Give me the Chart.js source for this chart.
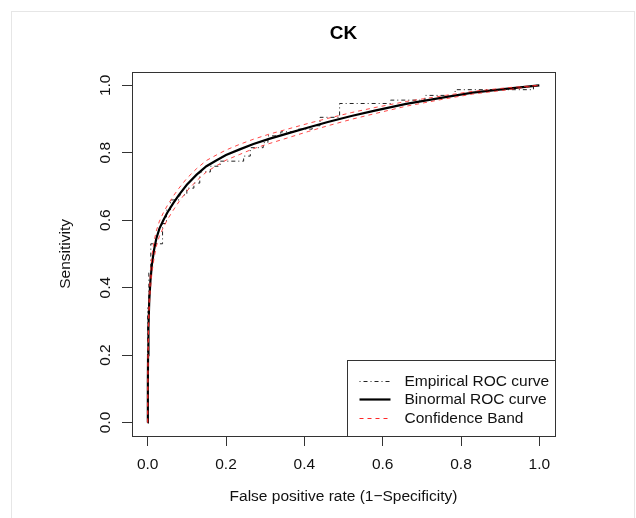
<!DOCTYPE html>
<html>
<head>
<meta charset="utf-8">
<script src="https://cdn.jsdelivr.net/npm/chart.js@4/dist/chart.umd.min.js"></script>
<style>
  html, body { margin: 0; padding: 0; background: #fff; }
  #wrap { position: relative; width: 636px; height: 518px; }
</style>
</head>
<body>
<div id="wrap"><canvas id="rocChart"></canvas></div>
<script>
// values
const chartTitle = 'CK';
const xTitle = 'False positive rate (1\u2212Specificity)';
const yTitle = 'Sensitivity';
const tickValues = [0, 0.2, 0.4, 0.6, 0.8, 1.0];
const tickLabels = ['0.0', '0.2', '0.4', '0.6', '0.8', '1.0'];
const legendLabels = ['Empirical ROC curve', 'Binormal ROC curve', 'Confidence Band'];

const binormalFpr = [0, 0.0005, 0.001, 0.002, 0.004, 0.007, 0.011, 0.016, 0.022, 0.03, 0.04, 0.05, 0.065, 0.08, 0.1, 0.125, 0.15, 0.175, 0.2, 0.235, 0.27, 0.31, 0.36, 0.41, 0.46, 0.52, 0.58, 0.66, 0.76, 0.83, 0.92, 1];
const binormalTpr = [0, 0.12, 0.2, 0.28, 0.36, 0.42, 0.47, 0.51, 0.545, 0.575, 0.6, 0.622, 0.65, 0.675, 0.705, 0.735, 0.76, 0.777, 0.793, 0.81, 0.826, 0.841, 0.858, 0.875, 0.891, 0.909, 0.925, 0.945, 0.965, 0.978, 0.99, 1];
const bandUpperTpr = [0, 0.13, 0.22, 0.3, 0.385, 0.445, 0.495, 0.535, 0.568, 0.597, 0.622, 0.643, 0.671, 0.695, 0.724, 0.753, 0.777, 0.793, 0.808, 0.825, 0.84, 0.855, 0.871, 0.887, 0.902, 0.919, 0.934, 0.952, 0.97, 0.982, 0.993, 1];
const bandLowerTpr = [0, 0.11, 0.18, 0.26, 0.335, 0.395, 0.445, 0.485, 0.522, 0.553, 0.578, 0.601, 0.629, 0.655, 0.686, 0.717, 0.743, 0.761, 0.778, 0.795, 0.812, 0.827, 0.845, 0.863, 0.88, 0.899, 0.916, 0.938, 0.96, 0.974, 0.987, 1];

const empiricalFpr = [0, 0, 0.003, 0.003, 0.008, 0.008, 0.038, 0.038, 0.048, 0.048, 0.058, 0.058, 0.08, 0.08, 0.1, 0.1, 0.118, 0.118, 0.133, 0.133, 0.16, 0.16, 0.185, 0.185, 0.245, 0.245, 0.262, 0.262, 0.295, 0.295, 0.307, 0.307, 0.34, 0.34, 0.38, 0.38, 0.42, 0.42, 0.44, 0.44, 0.49, 0.49, 0.62, 0.62, 0.708, 0.708, 0.785, 0.785, 0.985, 0.985, 1];
const empiricalTpr = [0, 0.34, 0.34, 0.45, 0.45, 0.53, 0.53, 0.59, 0.59, 0.63, 0.63, 0.66, 0.66, 0.675, 0.675, 0.695, 0.695, 0.71, 0.71, 0.743, 0.743, 0.76, 0.76, 0.775, 0.775, 0.79, 0.79, 0.815, 0.815, 0.83, 0.83, 0.85, 0.85, 0.862, 0.862, 0.87, 0.87, 0.88, 0.88, 0.905, 0.905, 0.946, 0.946, 0.956, 0.956, 0.97, 0.97, 0.987, 0.987, 1, 1];

const FONT = "'Liberation Sans', Arial, sans-serif";
const AXIS_COLOR = '#333';
const BAND_COLOR = 'rgba(255, 40, 40, 0.85)';

const toPoints = (xs, ys) => xs.map((x, i) => ({ x: x, y: ys[i] }));

// white page with the faint frame around it
const framePlugin = {
    id: 'frame',
    beforeDraw(chart) {
        const ctx = chart.ctx;
        ctx.save();
        ctx.fillStyle = '#fff';
        ctx.fillRect(0, 0, chart.width, chart.height);
        ctx.strokeStyle = '#e6e6e6';
        ctx.lineWidth = 1;
        ctx.strokeRect(11.5, 11.5, 623, 530);
        ctx.restore();
    }
};

// R-style box around the plot region and legend at bottom right
const boxLegendPlugin = {
    id: 'boxLegend',
    afterDraw(chart) {
        const { ctx, chartArea } = chart;
        ctx.save();
        ctx.strokeStyle = AXIS_COLOR;
        ctx.lineWidth = 1;
        ctx.setLineDash([]);
        ctx.strokeRect(Math.round(chartArea.left) + 0.5, Math.round(chartArea.top) + 0.5,
            Math.round(chartArea.right - chartArea.left), Math.round(chartArea.bottom - chartArea.top));

        const w = 208, h = 76;
        const left = Math.round(chartArea.right) - w + 0.5;
        const top = Math.round(chartArea.bottom) - h + 0.5;
        ctx.fillStyle = '#fff';
        ctx.fillRect(left, top, w, h);
        ctx.strokeRect(left, top, w, h);

        const styles = [
            { color: '#222', width: 1, dash: [1, 3, 4, 3] },
            { color: '#000', width: 2.2, dash: [] },
            { color: 'rgb(255, 40, 40)', width: 1, dash: [4, 4] }
        ];
        const rowY = [20, 38.5, 57];
        ctx.font = '15.5px ' + FONT;
        ctx.textBaseline = 'middle';
        ctx.textAlign = 'left';
        legendLabels.forEach((label, i) => {
            const y = Math.round(top + rowY[i]) + 0.5;
            ctx.strokeStyle = styles[i].color;
            ctx.lineWidth = styles[i].width;
            ctx.setLineDash(styles[i].dash);
            ctx.beginPath();
            ctx.moveTo(left + 12, y);
            ctx.lineTo(left + 43, y);
            ctx.stroke();
            ctx.fillStyle = '#111';
            ctx.fillText(label, left + 57, y);
        });
        ctx.restore();
    }
};

const setTicks = scale => { scale.ticks = tickValues.map(v => ({ value: v })); };
const tickLabel = value => {
    const i = tickValues.findIndex(v => Math.abs(v - value) < 1e-9);
    return i >= 0 ? tickLabels[i] : '';
};

new Chart(document.getElementById('rocChart'), {
    type: 'scatter',
    data: {
        datasets: [
            {
                label: legendLabels[0],
                data: toPoints(empiricalFpr, empiricalTpr),
                showLine: true,
                borderColor: '#222',
                borderWidth: 1,
                borderDash: [1, 3, 4, 3],
                pointRadius: 0,
                tension: 0,
                order: 4
            },
            {
                label: legendLabels[1],
                data: toPoints(binormalFpr, binormalTpr),
                showLine: true,
                borderColor: '#000',
                borderWidth: 2.2,
                pointRadius: 0,
                tension: 0,
                order: 3
            },
            {
                label: legendLabels[2],
                data: toPoints(binormalFpr, bandUpperTpr),
                showLine: true,
                borderColor: BAND_COLOR,
                borderWidth: 1,
                borderDash: [4, 4],
                pointRadius: 0,
                tension: 0,
                order: 2
            },
            {
                label: legendLabels[2],
                data: toPoints(binormalFpr, bandLowerTpr),
                showLine: true,
                borderColor: BAND_COLOR,
                borderWidth: 1,
                borderDash: [4, 4],
                pointRadius: 0,
                tension: 0,
                order: 1
            }
        ]
    },
    options: {
        responsive: true,
        maintainAspectRatio: false,
        animation: false,
        layout: { padding: { left: 0, right: 81, top: 0, bottom: 0 } },
        plugins: {
            legend: { display: false },
            tooltip: { enabled: false },
            title: {
                display: true,
                text: chartTitle,
                fullSize: false,
                color: '#000',
                font: { family: FONT, size: 19, weight: 'bold' },
                padding: { top: 22, bottom: 27 }
            }
        },
        scales: {
            x: {
                type: 'linear',
                position: 'bottom',
                min: -0.04,
                max: 1.04,
                afterBuildTicks: setTicks,
                afterFit: scale => { scale.height = 82; },
                grid: { drawOnChartArea: false, drawTicks: true, tickLength: 10, color: AXIS_COLOR },
                border: { display: false },
                ticks: {
                    callback: tickLabel,
                    color: '#111',
                    padding: 9,
                    maxRotation: 0,
                    font: { family: FONT, size: 15.5 }
                },
                title: {
                    display: true,
                    text: xTitle,
                    color: '#111',
                    font: { family: FONT, size: 15.5 },
                    padding: { top: 0, bottom: 12 }
                }
            },
            y: {
                type: 'linear',
                min: -0.04,
                max: 1.04,
                afterBuildTicks: setTicks,
                afterFit: scale => { scale.width = 132; },
                grid: { drawOnChartArea: false, drawTicks: true, tickLength: 10, color: AXIS_COLOR },
                border: { display: false },
                ticks: {
                    callback: tickLabel,
                    color: '#111',
                    padding: 6,
                    minRotation: 90,
                    maxRotation: 90,
                    crossAlign: 'center',
                    font: { family: FONT, size: 15.5 }
                },
                title: {
                    display: true,
                    text: yTitle,
                    color: '#111',
                    font: { family: FONT, size: 15.5 },
                    padding: { top: 56, bottom: 0 }
                }
            }
        }
    },
    plugins: [framePlugin, boxLegendPlugin]
});
</script>
</body>
</html>
